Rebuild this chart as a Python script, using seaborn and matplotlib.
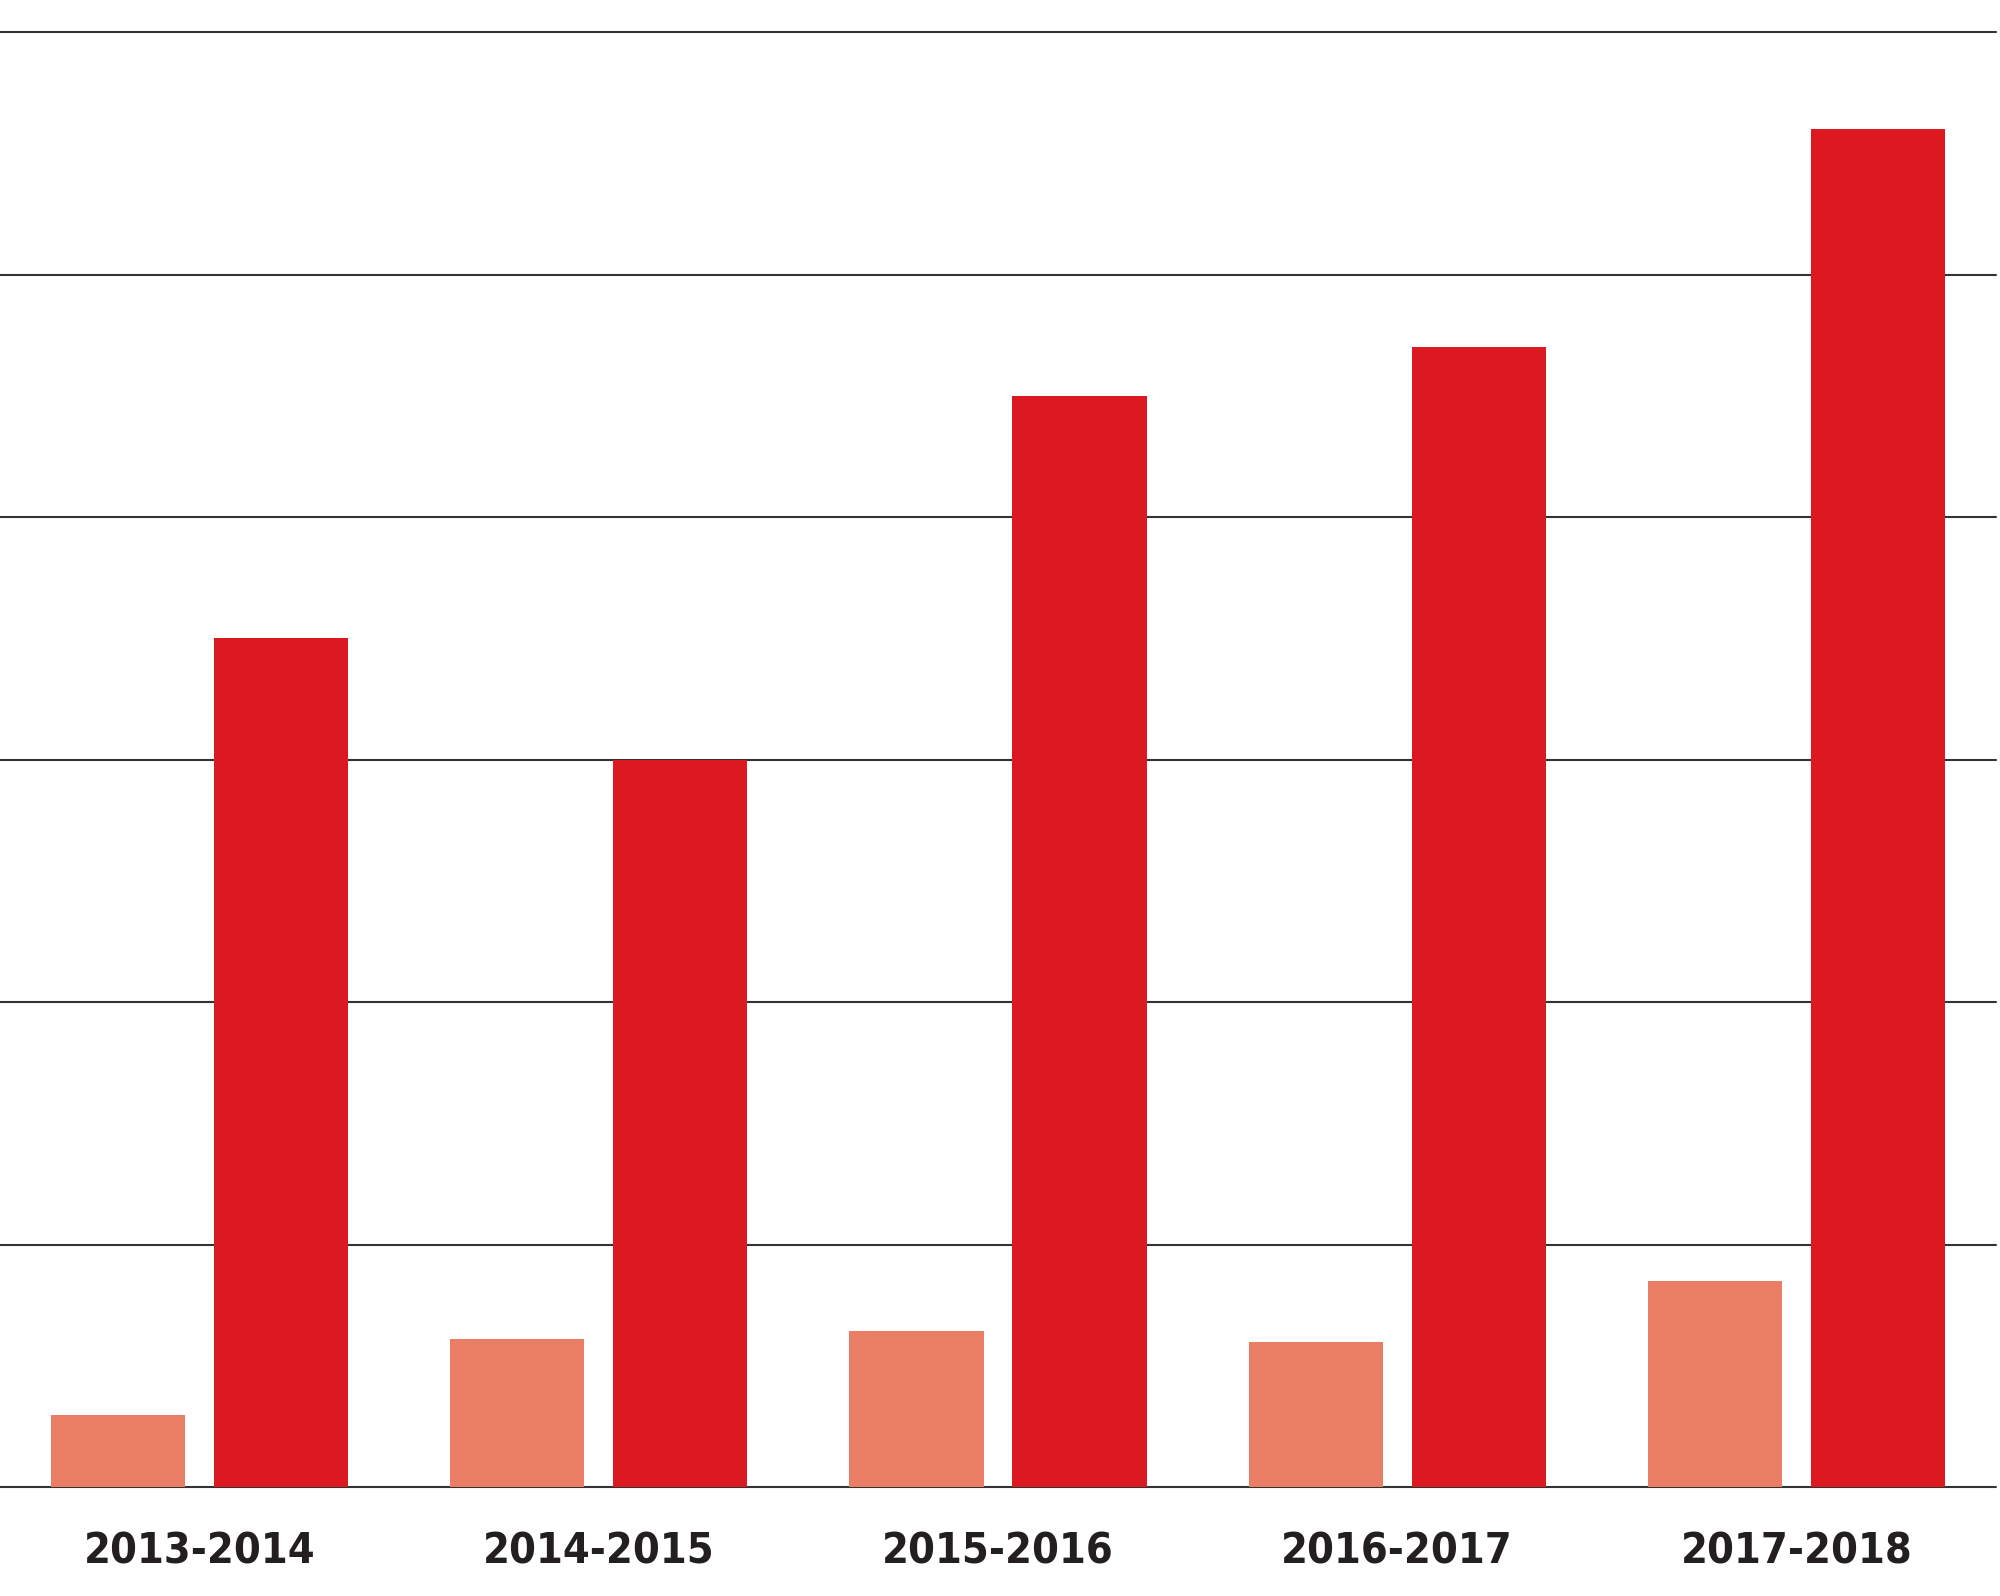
import pandas as pd
import matplotlib.pyplot as plt
import seaborn as sns

seasons = ["2013-2014", "2014-2015", "2015-2016", "2016-2017", "2017-2018"]
light_vals = [0.30, 0.61, 0.645, 0.60, 0.85]
red_vals = [3.5, 3.0, 4.5, 4.7, 5.6]
series = ["a", "b"]
colors = ["#E97E64", "#DC1920"]

df = pd.DataFrame({
    "season": seasons * 2,
    "series": [series[0]] * len(seasons) + [series[1]] * len(seasons),
    "value": light_vals + red_vals,
})

sns.set_style("white")
plt.rcParams['font.family'] = ['DejaVu Sans']

fig = plt.figure(figsize=(20, 15.96), dpi=100)
ax = fig.add_axes([0, 0.068, 0.998, 0.912])

sns.barplot(data=df, x="season", y="value", hue="series", palette=colors,
            width=0.816, gap=0.176, saturation=1, legend=False, ax=ax,
            linewidth=0, zorder=3)

ax.set_ylim(0, 6)
ax.set_xlim(-0.5, 4.5)
ax.set_yticks(range(0, 7))
ax.yaxis.grid(True, color="#333333", linewidth=1.5, zorder=0)
ax.set_axisbelow(True)
for gl in ax.get_ygridlines():
    gl.set_clip_on(False)
ax.set_yticklabels([])
ax.tick_params(axis="both", length=0)
ax.tick_params(axis="x", pad=31)
for lab in ax.get_xticklabels():
    lab.set_fontsize(31)
    lab.set_fontweight("bold")
    lab.set_fontstretch("condensed")
    lab.set_color("#231F20")
ax.set_xlabel("")
ax.set_ylabel("")
sns.despine(ax=ax, left=True, bottom=True, top=True, right=True)

fig.savefig("out.png", dpi=100, facecolor="white")
